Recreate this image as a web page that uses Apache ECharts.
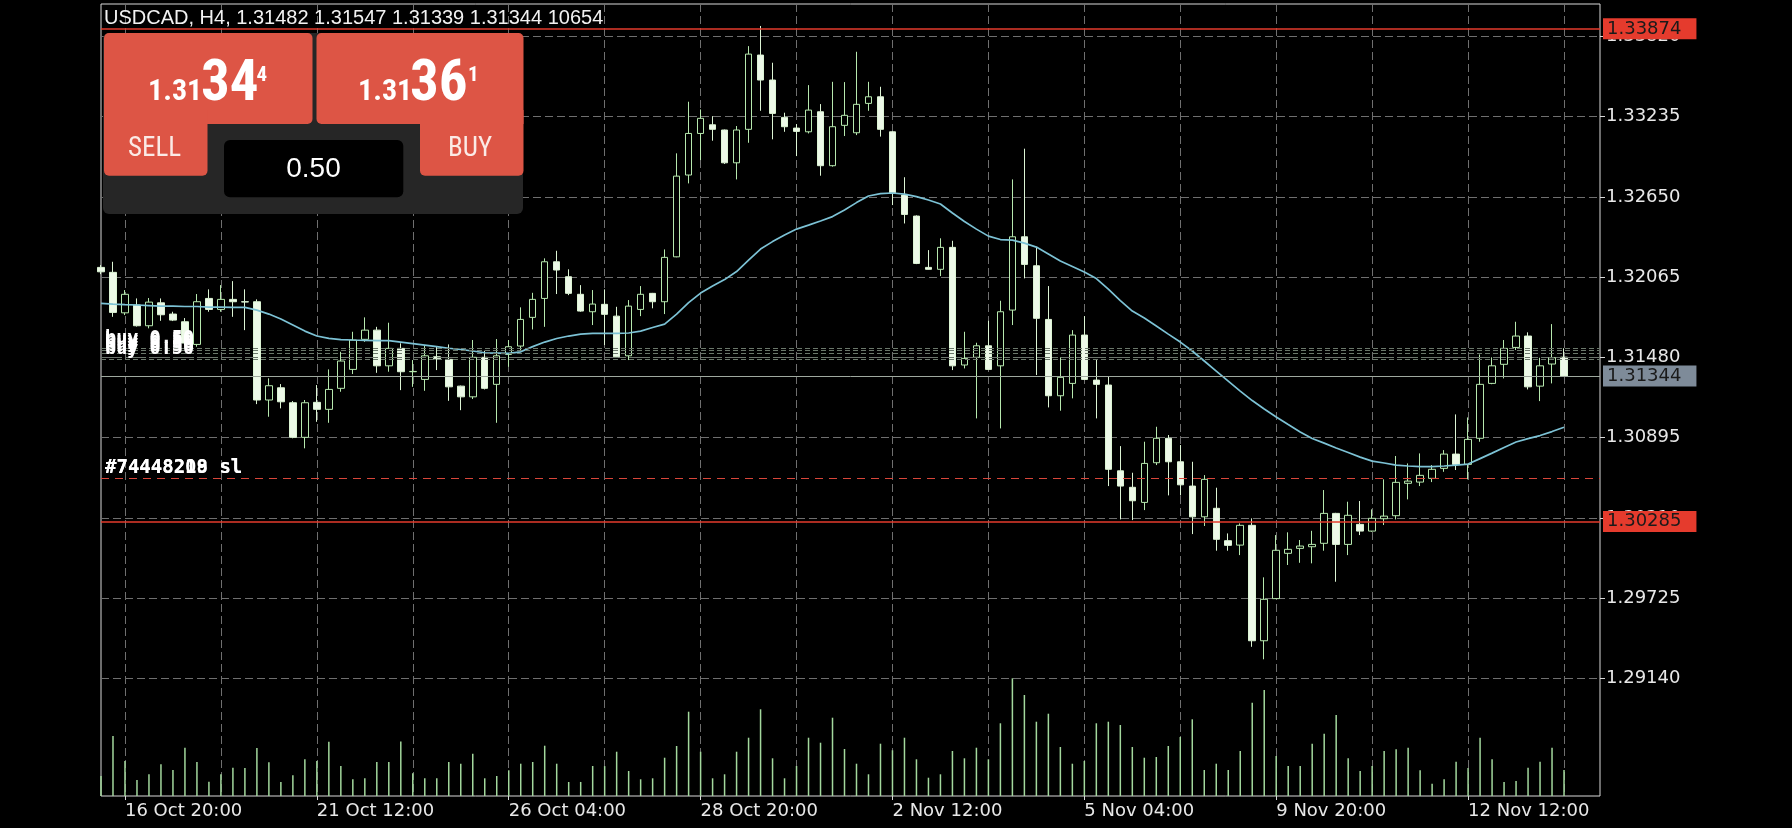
<!DOCTYPE html>
<html>
<head>
<meta charset="utf-8">
<script src="https://cdn.jsdelivr.net/npm/echarts@6/dist/echarts.min.js"></script>
<style>
html,body{margin:0;padding:0;background:#000;}
#chart{width:1792px;height:828px;}
</style>
</head>
<body>
<div id="chart"></div>
<script>
// ---------------- DATA ----------------
const dayLabels = ['16 Oct','19 Oct','20 Oct','21 Oct','22 Oct','23 Oct','26 Oct','27 Oct','28 Oct','29 Oct','30 Oct',
  '2 Nov','3 Nov','4 Nov','5 Nov','6 Nov','9 Nov','10 Nov','11 Nov','12 Nov','13 Nov'];
const hourLabels = ['00:00','04:00','08:00','12:00','16:00','20:00'];
const firstDayHours = ['12:00','16:00','20:00'];
const emptySlots = 3;

const openV = [1.32136,1.32100,1.31805,1.31862,1.31711,1.31878,1.31796,1.31740,1.31575,1.31910,
1.31830,1.31903,1.31886,1.31886,1.31170,1.31259,1.31150,1.30898,1.31153,1.31102,
1.31255,1.31393,1.31612,1.31679,1.31419,1.31546,1.31376,1.31320,1.31485,1.31466,
1.31271,1.31193,1.31481,1.31284,1.31502,1.31563,1.31772,1.31910,1.32177,1.32068,
1.31940,1.31813,1.31867,1.31781,1.31492,1.31830,1.31947,1.31886,1.32213,1.32809,
1.33112,1.33175,1.33137,1.32898,1.33142,1.33683,1.33501,1.33229,1.33151,1.33124,
1.33270,1.32877,1.33171,1.33117,1.33331,1.33379,1.33124,1.32663,1.32510,1.32136,
1.32122,1.32282,1.31425,1.31481,1.31565,1.31419,1.31825,1.32359,1.32148,1.31757,
1.31201,1.31291,1.31643,1.31315,1.31279,1.30654,1.30534,1.30424,1.30713,1.30891,
1.30720,1.30543,1.30319,1.30381,1.30145,1.30113,1.30257,1.29416,1.29723,1.30053,
1.30089,1.30101,1.30126,1.30344,1.30118,1.30264,1.30215,1.30305,1.30327,1.30563,
1.30572,1.30599,1.30672,1.30776,1.30701,1.30891,1.31291,1.31430,1.31553,1.31636,
1.31271,1.31432,1.31482];
const highV = [1.32153,1.32177,1.31971,1.31910,1.31913,1.31910,1.31813,1.31767,1.31942,1.31976,
1.32007,1.32036,1.31976,1.31903,1.31328,1.31286,1.31162,1.31170,1.31279,1.31393,
1.31521,1.31667,1.31772,1.31703,1.31733,1.31583,1.31461,1.31570,1.31558,1.31575,
1.31275,1.31607,1.31529,1.31614,1.31607,1.31845,1.31951,1.32202,1.32257,1.32122,
1.32007,1.31971,1.31976,1.31849,1.31898,1.32000,1.31950,1.32267,1.32967,1.33343,
1.33287,1.33238,1.33140,1.33166,1.33748,1.33895,1.33627,1.33263,1.33180,1.33464,
1.33326,1.33488,1.33486,1.33707,1.33488,1.33452,1.33128,1.32793,1.32515,1.32262,
1.32348,1.32330,1.31667,1.31587,1.31747,1.31893,1.32777,1.33001,1.32286,1.32000,
1.31481,1.31679,1.31781,1.31466,1.31344,1.30834,1.30640,1.30866,1.30975,1.30915,
1.30842,1.30720,1.30623,1.30531,1.30198,1.30271,1.30308,1.29878,1.30186,1.30206,
1.30150,1.30217,1.30514,1.30348,1.30429,1.30434,1.30373,1.30592,1.30762,1.30708,
1.30781,1.30696,1.30805,1.31065,1.31043,1.31502,1.31481,1.31607,1.31740,1.31663,
1.31478,1.31723,1.31547];
const lowV = [1.32087,1.31776,1.31789,1.31705,1.31692,1.31747,1.31745,1.31570,1.31558,1.31813,
1.31813,1.31776,1.31679,1.31140,1.31048,1.31109,1.30891,1.30818,1.31011,1.31004,
1.31230,1.31359,1.31594,1.31368,1.31376,1.31242,1.31266,1.31237,1.31388,1.31164,
1.31096,1.31177,1.31247,1.31004,1.31412,1.31534,1.31684,1.31703,1.31942,1.31934,
1.31813,1.31716,1.31570,1.31476,1.31461,1.31781,1.31838,1.31796,1.32210,1.32748,
1.32918,1.33059,1.32890,1.32777,1.33044,1.33277,1.33069,1.33124,1.32947,1.33112,
1.32804,1.32870,1.33093,1.33100,1.33277,1.33089,1.32590,1.32456,1.32160,1.32120,
1.32073,1.31388,1.31400,1.31036,1.31388,1.30963,1.31716,1.32056,1.31352,1.31116,
1.31092,1.31182,1.31315,1.31036,1.30543,1.30300,1.30295,1.30368,1.30696,1.30475,
1.30475,1.30193,1.30252,1.30072,1.30072,1.30040,1.29372,1.29281,1.29720,1.29968,
1.29984,1.29980,1.30072,1.29846,1.30040,1.30186,1.30210,1.30259,1.30300,1.30446,
1.30543,1.30572,1.30647,1.30660,1.30592,1.30866,1.31285,1.31327,1.31534,1.31247,
1.31162,1.31291,1.31339];
const closeV = [1.32104,1.31808,1.31940,1.31711,1.31883,1.31791,1.31752,1.31585,1.31886,1.31830,
1.31903,1.31886,1.31884,1.31170,1.31274,1.31157,1.30898,1.31150,1.31102,1.31247,
1.31454,1.31607,1.31679,1.31419,1.31546,1.31376,1.31378,1.31492,1.31470,1.31266,
1.31193,1.31481,1.31255,1.31492,1.31558,1.31757,1.31903,1.32177,1.32117,1.31947,
1.31818,1.31869,1.31794,1.31485,1.31854,1.31940,1.31886,1.32209,1.32801,1.33112,
1.33222,1.33142,1.32898,1.33137,1.33690,1.33501,1.33258,1.33161,1.33127,1.33282,
1.32877,1.33161,1.33244,1.33324,1.33379,1.33142,1.32680,1.32522,1.32165,1.32122,
1.32282,1.31419,1.31473,1.31565,1.31393,1.31813,1.32359,1.32158,1.31765,1.31201,
1.31335,1.31643,1.31320,1.31284,1.30665,1.30543,1.30436,1.30708,1.30891,1.30720,
1.30552,1.30319,1.30592,1.30155,1.30111,1.30257,1.29416,1.29718,1.30075,1.30082,
1.30106,1.30118,1.30344,1.30118,1.30330,1.30215,1.30308,1.30324,1.30570,1.30579,
1.30621,1.30665,1.30776,1.30701,1.30883,1.31284,1.31419,1.31546,1.31636,1.31266,
1.31419,1.31478,1.31344];
const maV = [1.31874,1.31869,1.31865,1.31862,1.31858,1.31854,1.31854,1.31851,1.31851,1.31847,
1.31847,1.31845,1.31845,1.31825,1.31796,1.31760,1.31716,1.31672,1.31636,1.31619,
1.31610,1.31607,1.31605,1.31603,1.31602,1.31592,1.31581,1.31570,1.31559,1.31547,
1.31538,1.31527,1.31514,1.31512,1.31510,1.31521,1.31559,1.31592,1.31618,1.31636,
1.31650,1.31656,1.31656,1.31656,1.31658,1.31672,1.31698,1.31723,1.31796,1.31880,
1.31949,1.32000,1.32047,1.32106,1.32189,1.32270,1.32324,1.32372,1.32415,1.32444,
1.32474,1.32506,1.32554,1.32608,1.32656,1.32674,1.32678,1.32670,1.32652,1.32627,
1.32598,1.32532,1.32470,1.32415,1.32364,1.32339,1.32335,1.32313,1.32284,1.32233,
1.32182,1.32142,1.32102,1.32055,1.31978,1.31894,1.31818,1.31767,1.31709,1.31650,
1.31592,1.31527,1.31454,1.31381,1.31308,1.31235,1.31166,1.31104,1.31046,1.30991,
1.30937,1.30889,1.30856,1.30820,1.30787,1.30754,1.30725,1.30711,1.30696,1.30689,
1.30685,1.30685,1.30689,1.30696,1.30703,1.30743,1.30783,1.30824,1.30864,1.30889,
1.30911,1.30940,1.30971];
const volumeV = [8200,24600,14350,6560,8900,13000,10660,19800,13940,5860,
8900,11600,11450,19680,13820,5740,8490,15050,14350,22260,
12300,6850,7260,13940,13900,22300,9300,7260,7250,13940,
13240,17340,7260,8200,10540,13240,13940,20620,13240,5740,
5760,12300,12250,18160,10250,6850,7260,15700,20500,34560,
18160,7260,8900,18160,23900,35550,15460,7260,12300,23900,
21850,32100,19270,13240,8900,21440,18740,23900,15050,7500,
8900,18450,15460,19800,15050,29810,48260,41410,30460,33740,
20090,13240,14350,29810,30460,29110,20090,15700,15990,20500,
24190,31450,10660,13240,10660,18450,38250,43460,16400,12300,
12300,21440,25540,33210,15460,10250,12300,18450,19150,19800,
10540,5040,6850,14060,11480,23900,15050,5740,6150,11600,
14060,19800,10654];

const priceTicks = [1.29140,1.29725,1.30310,1.30895,1.31480,1.32065,1.32650,1.33235,1.33820];
const priceMin = 1.28285, priceMax = 1.34055;
const volumeMax = 324720;
const alertHigh = 1.33874, alertLow = 1.30285;
const bidPrice = 1.31344;
const buyOrderLevels = [1.31546,1.31529,1.31510,1.31485,1.31466];
const slLevel = 1.30600;
const slOrderTexts = ['#74448218 sl','#74448209 sl'];
const headerText = 'USDCAD, H4, 1.31482 1.31547 1.31339 1.31344 10654';

// ------------- build categories -------------
const categories = [];
firstDayHours.forEach(h => categories.push(dayLabels[0] + ' ' + h));
dayLabels.slice(1).forEach(d => hourLabels.forEach(h => categories.push(d + ' ' + h)));
for (let k = 0; k < emptySlots; k++) categories.push('');

const candleData = openV.map((o, i) => [o, closeV[i], lowV[i], highV[i]]);

// ------------- styles -------------
const RED = '#e53b2d';
const AX_FONT = 'DejaVu Sans';
const gridColor = '#6f6f6f';
const labelBox = (bg) => ({
  show: true, position: 'end', distance: 3,
  backgroundColor: bg, color: '#1a1a1a', fontFamily: AX_FONT, fontSize: 18,
  padding: [2, 15, 1, 4]
});

const markData = [];
buyOrderLevels.forEach(v => markData.push({
  yAxis: v,
  lineStyle: { color: '#6b786b', type: [5, 3], width: 1 },
  label: { show: true, position: 'insideStartTop', distance: [4, 1], formatter: 'buy 0.50',
    color: '#ffffff', fontFamily: 'DejaVu Sans Mono', fontWeight: 'bold', fontSize: 18.5 }
}));
slOrderTexts.forEach((t, k) => markData.push({
  yAxis: slLevel,
  lineStyle: { color: k === 0 ? '#d8463a' : 'rgba(0,0,0,0)', type: [8, 6], width: 1 },
  label: { show: true, position: 'insideStartTop', distance: [4, 1], formatter: t,
    color: '#ffffff', fontFamily: 'DejaVu Sans Mono', fontWeight: 'bold', fontSize: 19 }
}));
markData.push({ yAxis: bidPrice, lineStyle: { color: '#9ea89e', type: 'solid', width: 1 },
  label: Object.assign(labelBox('#7e8b99'), { formatter: bidPrice.toFixed(5) }) });
markData.push({ yAxis: alertLow, lineStyle: { color: RED, type: 'solid', width: 1.6 },
  label: Object.assign(labelBox(RED), { formatter: alertLow.toFixed(5) }) });
markData.push({ yAxis: alertHigh, lineStyle: { color: RED, type: 'solid', width: 1.6 },
  label: Object.assign(labelBox(RED), { formatter: alertHigh.toFixed(5) }) });

const NARROW = "'Liberation Sans Narrow','Roboto Condensed','Liberation Sans',sans-serif";
const panel = [
  { type: 'rect', shape: { x: 103, y: 33, width: 420, height: 181, r: 6 }, style: { fill: '#262626' } },
  { type: 'rect', shape: { x: 104, y: 33, width: 208.5, height: 91, r: [5, 5, 5, 0] }, style: { fill: '#dd5545' } },
  { type: 'rect', shape: { x: 104, y: 110, width: 103.5, height: 65.7, r: [0, 0, 5, 5] }, style: { fill: '#dd5545' } },
  { type: 'rect', shape: { x: 316.5, y: 33, width: 207, height: 91, r: [5, 5, 0, 5] }, style: { fill: '#dd5545' } },
  { type: 'rect', shape: { x: 420, y: 110, width: 103.5, height: 65.7, r: [0, 0, 5, 5] }, style: { fill: '#dd5545' } },
  { type: 'rect', shape: { x: 224, y: 140, width: 179.3, height: 57.3, r: 6 }, style: { fill: '#000' } },
  { type: 'text', x: 148, y: 92.5, style: { text: '1.31', fill: '#fff', font: 'bold 30px ' + NARROW, verticalAlign: 'middle' } },
  { type: 'text', x: 201, y: 85.5, style: { text: '34', fill: '#fff', font: 'bold 57px ' + NARROW, verticalAlign: 'middle' } },
  { type: 'text', x: 256.5, y: 75.8, style: { text: '4', fill: '#fff', font: 'bold 21px ' + NARROW, verticalAlign: 'middle' } },
  { type: 'text', x: 358, y: 92.5, style: { text: '1.31', fill: '#fff', font: 'bold 30px ' + NARROW, verticalAlign: 'middle' } },
  { type: 'text', x: 410, y: 85.5, style: { text: '36', fill: '#fff', font: 'bold 57px ' + NARROW, verticalAlign: 'middle' } },
  { type: 'text', x: 468, y: 75.8, style: { text: '1', fill: '#fff', font: 'bold 21px ' + NARROW, verticalAlign: 'middle' } },
  { type: 'text', x: 128, y: 149.7, style: { text: 'SELL', fill: '#fbeae6', font: '27px ' + NARROW, verticalAlign: 'middle' } },
  { type: 'text', x: 448, y: 149.7, style: { text: 'BUY', fill: '#fbeae6', font: '27px ' + NARROW, verticalAlign: 'middle' } },
  { type: 'text', x: 313.5, y: 169.7, style: { text: '0.50', fill: '#fff', font: "28px 'Liberation Sans',sans-serif", align: 'center', verticalAlign: 'middle' } }
].map(e => Object.assign(e, { z: 100 }));

const chart = echarts.init(document.getElementById('chart'), null, { renderer: 'canvas' });
chart.setOption({
  backgroundColor: '#000',
  animation: false,
  title: {
    text: headerText, left: 104, top: 8, padding: 0, z: 50,
    textStyle: { color: '#f2f2f2', fontSize: 20, fontWeight: 'normal', fontFamily: "'Liberation Sans',sans-serif" }
  },
  grid: { left: 101, top: 4, width: 1499, height: 792, show: true, borderColor: '#d9d9d9', borderWidth: 1, backgroundColor: 'transparent' },
  xAxis: {
    type: 'category', data: categories, boundaryGap: false,
    axisLine: { show: false },
    axisTick: { show: true, length: 4, interval: (i) => (i - 2) % 16 === 0 && i >= 2, lineStyle: { color: '#d9d9d9' } },
    axisLabel: { show: true, interval: (i) => (i - 2) % 16 === 0 && i >= 2, align: 'left', margin: 6,
      color: '#e8e8e8', fontFamily: AX_FONT, fontSize: 18 },
    splitLine: { show: true, interval: (i) => (i - 2) % 8 === 0 && i >= 2, lineStyle: { color: gridColor, type: [8, 4], width: 1 } }
  },
  yAxis: [
    {
      type: 'value', position: 'right', min: priceMin, max: priceMax,
      axisLine: { show: false },
      axisTick: { show: true, length: 5, customValues: priceTicks, lineStyle: { color: '#d9d9d9' } },
      axisLabel: { show: true, customValues: priceTicks, formatter: (v) => v.toFixed(5), margin: 6,
        color: '#e8e8e8', fontFamily: AX_FONT, fontSize: 18 },
      splitLine: { show: true, lineStyle: { color: gridColor, type: [8, 4], width: 1 } }
    },
    { type: 'value', min: 0, max: volumeMax, show: false, splitLine: { show: false } }
  ],
  series: [
    {
      type: 'bar', name: 'Volume', xAxisIndex: 0, yAxisIndex: 1, data: volumeV,
      barWidth: 1.5, itemStyle: { color: '#a3d89d' }, silent: true, z: 1
    },
    {
      type: 'candlestick', name: 'USDCAD', data: candleData, barWidth: 7, clip: true, z: 3,
      itemStyle: { color: '#000000', color0: '#edf9e8', borderColor: '#b6e8ae', borderColor0: '#dcf4d4', borderWidth: 1 },
      markLine: { silent: true, symbol: 'none', animation: false, precision: 5, emphasis: { disabled: true }, data: markData }
    },
    {
      type: 'line', name: 'MA', data: maV, showSymbol: false, smooth: false, z: 4, silent: true,
      lineStyle: { color: '#7cc2d5', width: 1.7 }
    }
  ],
  graphic: panel
});
</script>
</body>
</html>
